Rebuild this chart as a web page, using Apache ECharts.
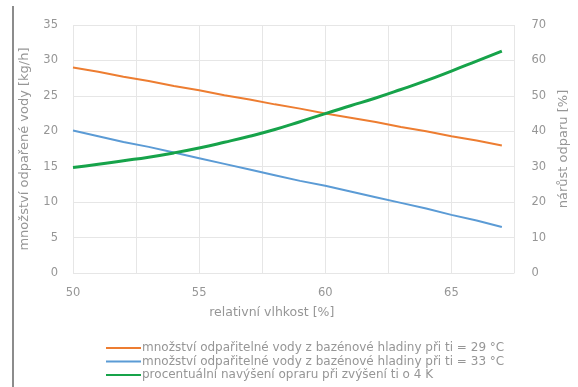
<!DOCTYPE html>
<html>
<head>
<meta charset="utf-8">
<script src="https://cdn.jsdelivr.net/npm/echarts@6/dist/echarts.min.js"></script>
<style>
  html, body { margin: 0; padding: 0; background: #ffffff; }
  #chart { width: 578px; height: 387px; }
</style>
</head>
<body>
<div id="chart"></div>
<script>
// Relative humidity [%]
var humidity = [50, 51, 52, 53, 54, 55, 56, 57, 58, 59, 60, 61, 62, 63, 64, 65, 66, 67];

// Evaporated water [kg/h] at water temperature 29 °C
var evap29 = [29.0, 28.4, 27.7, 27.1, 26.4, 25.8, 25.1, 24.5, 23.8, 23.2, 22.5, 21.9, 21.3, 20.6, 20.0, 19.3, 18.7, 18.0];

// Evaporated water [kg/h] at water temperature 33 °C
var evap33 = [20.1, 19.3, 18.5, 17.8, 17.0, 16.2, 15.4, 14.6, 13.8, 13.0, 12.3, 11.5, 10.7, 9.9, 9.1, 8.2, 7.4, 6.5];

// Percentage increase of evaporation when the temperature rises by 4 K
var increasePct = [29.8, 30.7, 31.7, 32.7, 33.9, 35.3, 36.9, 38.6, 40.5, 42.7, 45.0, 47.2, 49.4, 51.8, 54.3, 57.0, 59.8, 62.6];

var seriesNames = [
  'množství odpařitelné vody z bazénové hladiny při ti = 29 °C',
  'množství odpařitelné vody z bazénové hladiny při ti = 33 °C',
  'procentuální navýšení opraru při zvýšení ti o 4 K'
];

var xTickLabels = ['50', '55', '60', '65'];

function pairs(xs, ys) {
  return xs.map(function (x, i) { return [x, ys[i]]; });
}

var textColor = '#969696';
var gridColor = '#e6e6e6';
var font = '"DejaVu Sans", "Noto Sans", sans-serif';

var chart = echarts.init(document.getElementById('chart'), null, { renderer: 'canvas' });

chart.setOption({
  animation: false,
  backgroundColor: '#ffffff',
  textStyle: { fontFamily: font },
  grid: { left: 73, right: 56, top: 25, bottom: 114, containLabel: false },
  graphic: [{
    type: 'rect',
    left: 12, top: 6,
    shape: { width: 2, height: 381 },
    style: { fill: '#8c8c8c' }
  }],
  legend: {
    orient: 'vertical',
    left: 101,
    top: 337,
    itemWidth: 35,
    itemHeight: 2,
    itemGap: 1.5,
    icon: 'rect',
    data: seriesNames,
    textStyle: { color: textColor, fontSize: 12, fontFamily: font, padding: [0, 0, 0, -4] }
  },
  xAxis: {
    type: 'value',
    min: 50,
    max: 67.5,
    interval: 2.5,
    name: 'relativní vlhkost [%]',
    nameLocation: 'middle',
    nameGap: 33,
    nameTextStyle: { color: textColor, fontSize: 12.5, padding: [0, 44, 0, 0] },
    axisLine: { show: false },
    axisTick: { show: false },
    axisLabel: {
      color: textColor, fontSize: 11.5, margin: 14,
      showMaxLabel: false,
      formatter: function (v) {
        var s = String(v);
        return xTickLabels.indexOf(s) >= 0 ? s : '';
      }
    },
    splitLine: { show: true, lineStyle: { color: gridColor, width: 1 } }
  },
  yAxis: [{
    type: 'value',
    min: 0, max: 35, interval: 5,
    name: 'množství odpařené vody [kg/h]',
    nameLocation: 'middle',
    nameGap: 42,
    nameRotate: 90,
    nameTextStyle: { color: textColor, fontSize: 13 },
    axisLine: { show: false },
    axisTick: { show: false },
    axisLabel: { color: textColor, fontSize: 11.5, margin: 15 },
    splitLine: { show: true, lineStyle: { color: gridColor, width: 1 } }
  }, {
    type: 'value',
    min: 0, max: 70, interval: 10,
    position: 'right',
    name: 'nárůst odparu [%]',
    nameLocation: 'middle',
    nameGap: 30,
    nameRotate: 90,
    nameTextStyle: { color: textColor, fontSize: 13 },
    axisLine: { show: false },
    axisTick: { show: false },
    axisLabel: { color: textColor, fontSize: 11.5, margin: 17 },
    splitLine: { show: false }
  }],
  series: [{
    name: seriesNames[0],
    type: 'line',
    yAxisIndex: 0,
    data: pairs(humidity, evap29),
    showSymbol: false,
    symbol: 'none',
    itemStyle: { color: '#ED7D31' },
    lineStyle: { color: '#ED7D31', width: 2 }
  }, {
    name: seriesNames[1],
    type: 'line',
    yAxisIndex: 0,
    data: pairs(humidity, evap33),
    showSymbol: false,
    symbol: 'none',
    itemStyle: { color: '#5B9BD5' },
    lineStyle: { color: '#5B9BD5', width: 2 }
  }, {
    name: seriesNames[2],
    type: 'line',
    yAxisIndex: 1,
    data: pairs(humidity, increasePct),
    smooth: true,
    showSymbol: false,
    symbol: 'none',
    itemStyle: { color: '#16A34A' },
    lineStyle: { color: '#16A34A', width: 3 }
  }]
});
</script>
</body>
</html>
